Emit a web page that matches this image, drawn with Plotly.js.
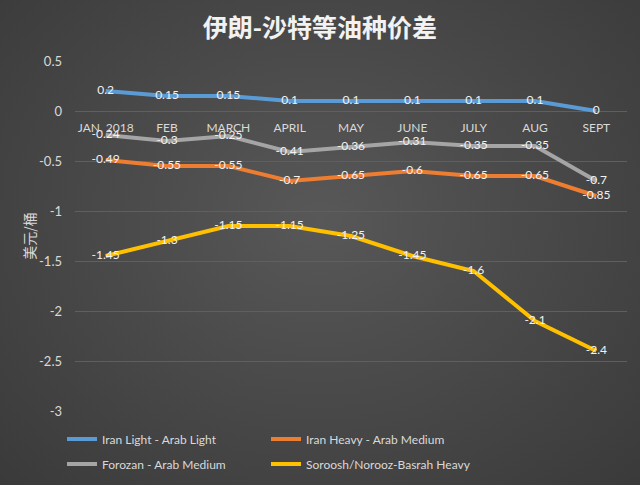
<!DOCTYPE html>
<html>
<head>
<meta charset="utf-8">
<script src="https://cdn.plot.ly/plotly-3.0.1.min.js"></script>
<style>
  html, body { margin: 0; padding: 0; }
  #chart { width: 640px; height: 485px;
    background: radial-gradient(ellipse at 50% 45%, #585858 0%, #4a4a4a 45%, #3a3a3a 100%); }
</style>
</head>
<body>
<div id="chart"></div>
<script>
const categories = ["JAN. 2018", "FEB", "MARCH", "APRIL", "MAY", "JUNE", "JULY", "AUG", "SEPT"];
const seriesNames = ["Iran Light - Arab Light", "Iran Heavy - Arab Medium", "Forozan - Arab Medium", "Soroosh/Norooz-Basrah Heavy"];
const iranLight = [0.2, 0.15, 0.15, 0.1, 0.1, 0.1, 0.1, 0.1, 0];
const iranHeavy = [-0.49, -0.55, -0.55, -0.7, -0.65, -0.6, -0.65, -0.65, -0.85];
const forozan = [-0.24, -0.3, -0.25, -0.41, -0.36, -0.31, -0.35, -0.35, -0.7];
const soroosh = [-1.45, -1.3, -1.15, -1.15, -1.25, -1.45, -1.6, -2.1, -2.4];
const yTicks = [0.5, 0, -0.5, -1, -1.5, -2, -2.5, -3];

const colors = ["#5B9BD5", "#ED7D31", "#A5A5A5", "#FFC000"];
const seriesData = [iranLight, iranHeavy, forozan, soroosh];
const legendIds = ["legend", "legend2", "legend3", "legend4"];
const FONT = "Lato, 'Noto Sans CJK SC', sans-serif";

const traces = seriesData.map((vals, i) => ({
  type: "scatter",
  mode: "lines+text",
  name: seriesNames[i],
  x: categories,
  y: vals,
  text: vals.map(v => String(v)),
  textposition: "middle center",
  textfont: { family: FONT, size: 12, color: "#f2f2f2" },
  line: { color: colors[i], width: 4 },
  legend: legendIds[i],
  hoverinfo: "x+y"
}));

const layout = {
  width: 640, height: 485,
  paper_bgcolor: "rgba(0,0,0,0)",
  plot_bgcolor: "rgba(0,0,0,0)",
  margin: { l: 75, r: 13, t: 61, b: 74, autoexpand: false },
  title: {
    text: "<b>伊朗-沙特等油种价差</b>",
    font: { family: "'Noto Sans CJK SC', sans-serif", size: 25, color: "#f2f2f2" },
    x: 0.5, xanchor: "center", xref: "container",
    y: 1 - 28 / 485, yref: "container", yanchor: "middle"
  },
  xaxis: {
    type: "category",
    range: [-0.5, 8.5],
    anchor: "free",
    position: (411 - 111) / 350,
    showgrid: false, zeroline: false, showline: false,
    ticks: "", ticklabelstandoff: 8,
    tickfont: { family: FONT, size: 12, color: "#d9d9d9" }
  },
  yaxis: {
    range: [-3, 0.5],
    tickvals: yTicks,
    ticktext: yTicks.map(v => String(v)),
    showgrid: true, gridcolor: "#5f5f5f", gridwidth: 1,
    zeroline: false, showline: false, ticks: "", ticklabelstandoff: 12,
    tickfont: { family: FONT, size: 13, color: "#d9d9d9" },
    title: { text: "美元/桶", font: { family: "'Noto Sans CJK SC', sans-serif", size: 14, color: "#d9d9d9" }, standoff: 0 }
  },
  showlegend: true
};

const legendPos = [[62, 439], [266, 439], [62, 464], [266, 464]];
legendIds.forEach((id, i) => {
  layout[id] = {
    orientation: "h",
    xref: "container", x: legendPos[i][0] / 640, xanchor: "left",
    yref: "container", y: 1 - legendPos[i][1] / 485, yanchor: "middle",
    font: { family: FONT, size: 12, color: "#d9d9d9" },
    bgcolor: "rgba(0,0,0,0)", borderwidth: 0
  };
});

Plotly.newPlot("chart", traces, layout, { displayModeBar: false, staticPlot: true });
</script>
</body>
</html>
